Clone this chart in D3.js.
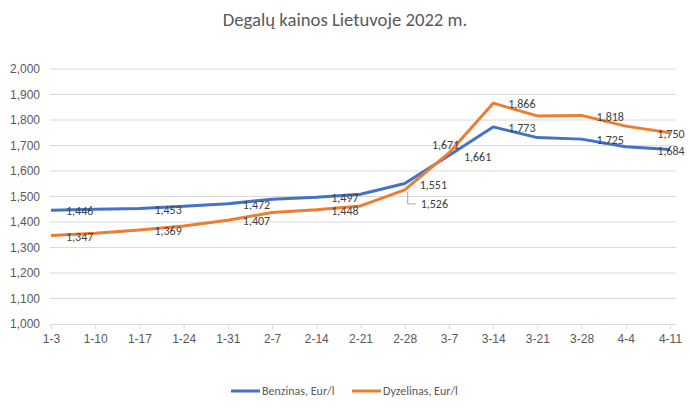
<!DOCTYPE html>
<html><head><meta charset="utf-8">
<script src="https://cdn.jsdelivr.net/npm/d3@7"></script>
<style>
html,body{margin:0;padding:0;background:#fff;}
svg{display:block;font-family:Carlito,"Liberation Sans Narrow","Open Sans",sans-serif;}
</style></head>
<body><svg id="c" width="690" height="411"></svg>
<script>
const title = "Degalų kainos Lietuvoje 2022 m.";
const categories = ["1-3","1-10","1-17","1-24","1-31","2-7","2-14","2-21","2-28","3-7","3-14","3-21","3-28","4-4","4-11"];
const benzinas = [1.446,1.450,1.453,1.462,1.472,1.489,1.497,1.509,1.551,1.661,1.773,1.731,1.725,1.695,1.684];
const dyzelinas = [1.347,1.356,1.369,1.384,1.407,1.437,1.448,1.463,1.526,1.671,1.866,1.816,1.818,1.776,1.750];
const yTicks = [1.0,1.1,1.2,1.3,1.4,1.5,1.6,1.7,1.8,1.9,2.0];
const seriesNames = ["Benzinas, Eur/l","Dyzelinas, Eur/l"];
const colors = ["#4472C4","#ED7D31"];
// labelled points: [categoryIndex, placement]
const benzinasLabels = [[0,"right"],[2,"right"],[4,"right"],[6,"right"],[8,"right"],[9,"right"],[10,"right"],[12,"right"],[14,"center"]];
const dyzelinasLabels = [[0,"right"],[2,"right"],[4,"right"],[6,"right"],[8,"leader"],[9,"upleft"],[10,"right"],[12,"right"],[14,"center"]];

const svg = d3.select("#c");
const fmt = v => d3.format(",.3f")(v).replace(".", ",");
const x = d3.scalePoint().domain(categories).range([51, 670]);
const y = d3.scaleLinear().domain([1.0, 2.0]).range([324, 69]);
const plotL = 50, plotR = 676;

svg.append("text").attr("x", 345).attr("y", 26).attr("text-anchor","middle")
  .attr("font-size", 18.7).attr("fill","#595959").text(title);

// gridlines
svg.append("g").selectAll("line").data(yTicks.filter(t=>t>1.0)).join("line")
  .attr("x1", plotL).attr("x2", plotR).attr("y1", d=>y(d)).attr("y2", d=>y(d))
  .attr("stroke","#d9d9d9").attr("stroke-width",1);

// y axis labels
const yAxis = d3.axisLeft(y).tickValues(yTicks).tickSize(0).tickPadding(0).tickFormat(fmt);
const gy = svg.append("g").attr("transform","translate(40,0)").call(yAxis);
gy.select(".domain").remove();
gy.selectAll("text").attr("font-size",12).attr("fill","#595959").attr("font-family",null);

// x axis
const xAxis = d3.axisBottom(x).tickSize(5).tickPadding(5);
const gx = svg.append("g").attr("transform","translate(0,324)").call(xAxis);
gx.select(".domain").attr("d", `M${plotL},0.5H${plotR}`).attr("stroke","#d9d9d9");
gx.selectAll(".tick line").attr("stroke","#d9d9d9");
gx.selectAll("text").attr("font-size",12).attr("fill","#595959").attr("font-family",null);

const line = d3.line().x((d,i)=>x(categories[i])).y(d=>y(d));
[benzinas, dyzelinas].forEach((s,k)=>{
  svg.append("path").datum(s).attr("d", line).attr("fill","none")
    .attr("stroke", colors[k]).attr("stroke-width",3).attr("stroke-linejoin","round");
});

// data labels
const lg = svg.append("g").attr("font-size",12).attr("fill","#404040");
function addLabels(s, specs){
  specs.forEach(([i,pos])=>{
    const px = x(categories[i]), py = y(s[i]);
    let tx = px + 15, ty = py + 1, anchor = "start";
    if (pos === "center") { tx = px + 1; anchor = "middle"; }
    if (pos === "upleft") { tx = px - 17; ty = py - 8.5; }
    if (pos === "leader") {
      ty = py + 14;
      lg.append("path").attr("d", `M${px+3},${py+2}V${ty}H${px+11}`)
        .attr("fill","none").attr("stroke","#a6a6a6").attr("stroke-width",1);
      tx = px + 16;
    }
    lg.append("text").attr("x", tx).attr("y", ty).attr("dy","0.35em")
      .attr("text-anchor", anchor).text(fmt(s[i]));
  });
}
addLabels(benzinas, benzinasLabels);
addLabels(dyzelinas, dyzelinasLabels);

// legend
const leg = svg.append("g").attr("font-size",12).attr("fill","#595959");
const legX = [231, 352];
seriesNames.forEach((n,k)=>{
  leg.append("line").attr("x1", legX[k]).attr("x2", legX[k]+29).attr("y1",391).attr("y2",391)
    .attr("stroke", colors[k]).attr("stroke-width",3);
  leg.append("text").attr("x", legX[k]+31).attr("y",391).attr("dy","0.35em").text(n);
});
</script></body></html>
